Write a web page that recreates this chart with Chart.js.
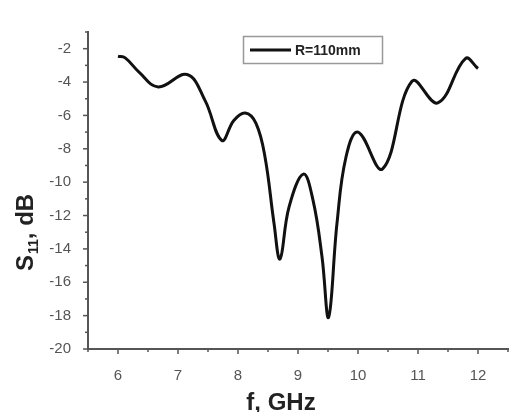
<!DOCTYPE html>
<html>
<head>
<meta charset="utf-8">
<script src="https://cdn.jsdelivr.net/npm/chart.js@4"></script>
<style>
  body { margin: 0; background: #fff; }
  canvas { display: block; }
</style>
</head>
<body>
<canvas id="myChart" width="518" height="412"></canvas>
<script>
// S11 vs frequency
const freq = [6.0, 6.12, 6.35, 6.67, 7.15, 7.45, 7.73, 7.93, 8.12, 8.3, 8.45, 8.6, 8.7, 8.85, 9.09,
  9.25, 9.4, 9.51, 9.65, 9.8, 10.0, 10.41, 10.9, 11.33, 11.79, 12.0];
const s11 = [-2.45, -2.55, -3.4, -4.29, -3.55, -5.1, -7.5, -6.3, -5.85, -6.47, -8.49, -12.46, -14.6, -11.5, -9.52,
  -11.08, -14.47, -18.1, -12.46, -8.49, -7.0, -9.2, -3.95, -5.25, -2.59, -3.19];
const seriesName = 'R=110mm';
const xTitle = 'f, GHz';

const FONT = "'Liberation Sans', Arial, sans-serif";
const AXIS = '#555';

// minor + major tick marks, drawn outward
const tickMarks = {
  id: 'tickMarks',
  afterDraw(chart) {
    const ctx = chart.ctx;
    const x = chart.scales.x, y = chart.scales.y;
    ctx.save();
    ctx.strokeStyle = AXIS;
    ctx.lineWidth = 1.5;
    x.ticks.forEach(t => {
      const px = x.getPixelForValue(t.value);
      const len = Number.isInteger(t.value) ? 5 : 3;
      ctx.beginPath();
      ctx.moveTo(px, x.top);
      ctx.lineTo(px, x.top + len);
      ctx.stroke();
    });
    y.ticks.forEach(t => {
      const py = y.getPixelForValue(t.value);
      const len = t.value % 2 === 0 ? 5 : 3;
      ctx.beginPath();
      ctx.moveTo(y.right, py);
      ctx.lineTo(y.right - len, py);
      ctx.stroke();
    });
    ctx.restore();
  }
};

// axis titles (with subscript) and boxed legend
const titlesAndLegend = {
  id: 'titlesAndLegend',
  afterDraw(chart) {
    const ctx = chart.ctx;
    ctx.save();
    ctx.fillStyle = '#222';

    // x title
    ctx.font = 'bold 24px ' + FONT;
    ctx.textAlign = 'center';
    ctx.textBaseline = 'alphabetic';
    ctx.fillText(xTitle, 281, 410);

    // y title: S11, dB rotated
    ctx.translate(0, 271);
    ctx.rotate(-Math.PI / 2);
    ctx.textAlign = 'left';
    let cx = 0;
    ctx.font = 'bold 24px ' + FONT;
    ctx.fillText('S', cx, 33);
    cx += ctx.measureText('S').width + 1;
    ctx.font = 'bold 14px ' + FONT;
    ctx.fillText('11', cx, 38);
    cx += ctx.measureText('11').width;
    ctx.font = 'bold 24px ' + FONT;
    ctx.fillText(', dB', cx, 33);
    ctx.setTransform(1, 0, 0, 1, 0, 0);

    // legend box
    const ds = chart.data.datasets[0];
    ctx.strokeStyle = '#999';
    ctx.lineWidth = 1.5;
    ctx.strokeRect(243.5, 36.5, 139, 27);
    ctx.strokeStyle = ds.borderColor;
    ctx.lineWidth = 3;
    ctx.beginPath();
    ctx.moveTo(250, 50);
    ctx.lineTo(291, 50);
    ctx.stroke();
    ctx.fillStyle = '#222';
    ctx.font = 'bold 14px ' + FONT;
    ctx.textBaseline = 'middle';
    ctx.fillText(ds.label, 295, 51);
    ctx.restore();
  }
};

const data = {
  datasets: [{
    label: seriesName,
    data: freq.map((f, i) => ({ x: f, y: s11[i] })),
    borderColor: '#111',
    borderWidth: 3,
    pointRadius: 0,
    fill: false,
    tension: 0.4
  }]
};

const config = {
  type: 'line',
  data: data,
  options: {
    responsive: false,
    animation: false,
    layout: { padding: { top: 32, right: 3, left: 0, bottom: 0 } },
    plugins: { legend: { display: false }, tooltip: { enabled: false } },
    scales: {
      x: {
        type: 'linear',
        min: 5.5,
        max: 12.5,
        afterFit: s => { s.height = 63; },
        grid: { display: false },
        border: { display: true, color: AXIS, width: 2 },
        ticks: {
          stepSize: 0.5,
          autoSkip: false,
          maxRotation: 0,
          padding: 10,
          color: '#555',
          font: { family: FONT, size: 15 },
          callback: v => Number.isInteger(v) ? String(v) : ''
        }
      },
      y: {
        min: -20,
        max: -1,
        afterFit: s => { s.width = 88; },
        grid: { display: false },
        border: { display: true, color: AXIS, width: 2 },
        ticks: {
          stepSize: 1,
          autoSkip: false,
          padding: 9,
          color: '#555',
          font: { family: FONT, size: 15 },
          callback: v => v % 2 === 0 ? String(v) : ''
        }
      }
    }
  },
  plugins: [tickMarks, titlesAndLegend]
};

let myChart = new Chart(document.getElementById('myChart'), config);
</script>
</body>
</html>
